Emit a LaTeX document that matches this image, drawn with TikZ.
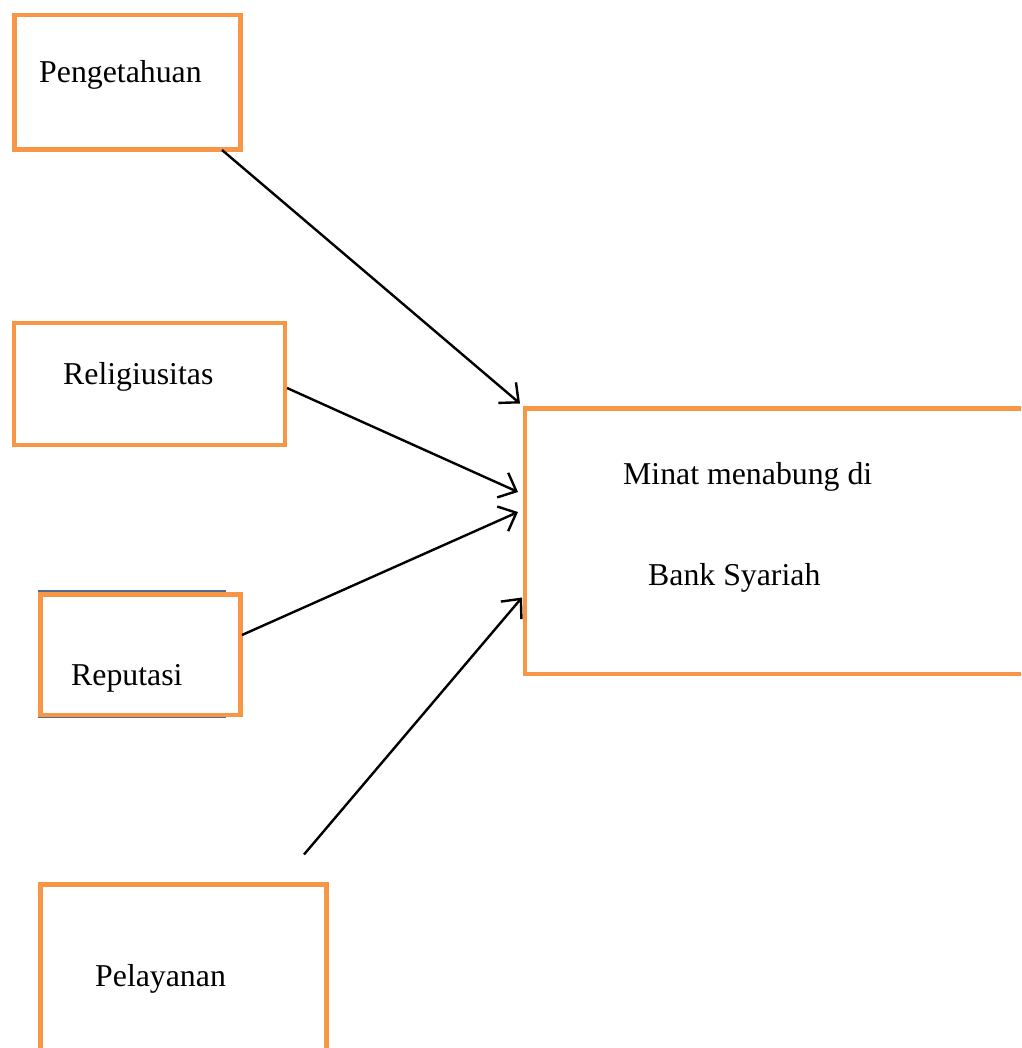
\documentclass[tikz,border=0pt]{standalone}
\usepackage{fontspec}
\setmainfont{Liberation Serif}
\usetikzlibrary{arrows.meta,calc}
\definecolor{boxorange}{HTML}{F79646}
\definecolor{boxblue}{HTML}{4F6A8F}
\begin{document}
\begin{tikzpicture}[x=1pt,y=-1pt,
  box/.style={draw=boxorange,line width=4.5pt,rectangle,inner sep=0pt,outer sep=0pt,anchor=north west},
  lbl/.style={anchor=base west,inner sep=0pt,font=\fontsize{31.8}{38}\selectfont},
  conn/.style={draw=black,line width=2.4pt,-{Straight Barb[length=15pt,width=27pt,line width=2.4pt]}}]
\useasboundingbox (0,0) rectangle (1021,1048);
\begin{scope}
\clip (0,0) rectangle (1021,1048);
% blue lines behind Reputasi
\draw[boxblue,line width=2pt] (38,590.5) -- (226,590.5);
\draw[boxblue,line width=2pt] (38,716.5) -- (226,716.5);
\node[box,minimum width=226pt,minimum height=134.5pt] (peng) at (14.5,15) {};
\node[box,minimum width=271pt,minimum height=122pt] (reli) at (14,323) {};
\node[box,minimum width=200pt,minimum height=120.5pt] (repu) at (40.5,594.5) {};
\node[box,minimum width=286pt,minimum height=200pt] (pela) at (40.5,884.5) {};
\node[box,minimum width=560pt,minimum height=265.5pt] (minat) at (525,408.5) {};
\end{scope}
\node[lbl] (tpeng) at (39,83) {Pengetahuan};
\node[lbl] (treli) at (63,384) {Religiusitas};
\node[lbl] (trepu) at (71,685) {Reputasi};
\node[lbl] (tpela) at (95,986) {Pelayanan};
\node[lbl] (tmin1) at (623,484) {Minat menabung di};
\node[lbl] (tmin2) at (648,585) {Bank Syariah};
% connector endpoints
\coordinate (s1) at ($(peng.south west)+(207.5,0.5)$);
\coordinate (s2) at ($(reli.north east)+(2,65)$);
\coordinate (s3) at ($(repu.north east)+(1.5,40.5)$);
\coordinate (s4) at ($(pela.north west)+(263.5,-30)$);
\coordinate (t1) at ($(minat.north west)+(-5,-5)$);
\coordinate (t2) at ($(minat.north west)+(-7,83.5)$);
\coordinate (t3) at ($(minat.north west)+(-7,103.5)$);
\coordinate (t4) at ($(minat.north west)+(-3,189)$);
\draw[conn] (s1) -- (t1);
\draw[conn] (s2) -- (t2);
\draw[conn] (s3) -- (t3);
\draw[conn] (s4) -- (t4);
\end{tikzpicture}
\end{document}
